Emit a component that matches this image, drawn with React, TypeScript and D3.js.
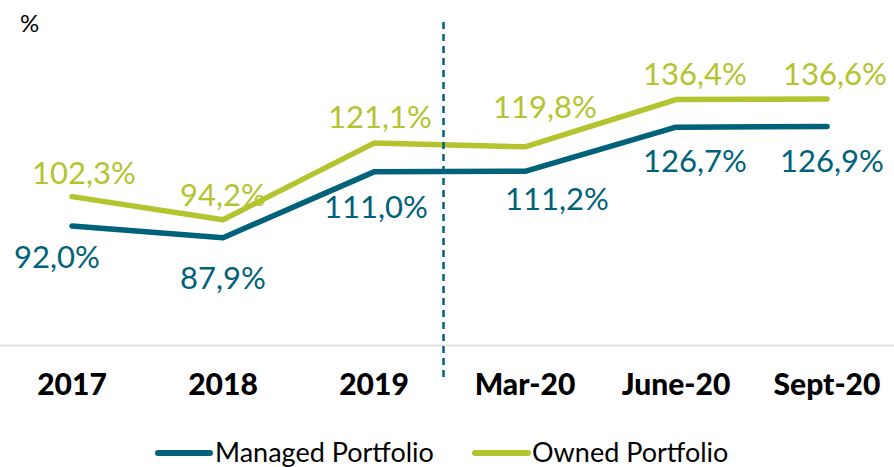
import React from "react";
import * as d3 from "d3";

const categories = ["2017", "2018", "2019", "Mar-20", "June-20", "Sept-20"];
const managed = [92.0, 87.9, 111.0, 111.2, 126.7, 126.9];
const owned = [102.3, 94.2, 121.1, 119.8, 136.4, 136.6];
const managedLabels = ["92,0%", "87,9%", "111,0%", "111,2%", "126,7%", "126,9%"];
const ownedLabels = ["102,3%", "94,2%", "121,1%", "119,8%", "136,4%", "136,6%"];

// layout (label offsets in px relative to the point)
const managedDx = [-15, 0, 2, 32, 19, 5];
const managedDy = [42, 51, 46, 39, 45, 45];
const ownedDx = [12, 0, 6, 20, 19, 8];
const ownedDy = [-13, -14, -15, -29, -15, -14];

const W = 894;
const H = 467;
const TEAL = "#00617a";
const GREEN = "#b4c42e";
const FONT = "Lato, 'Open Sans', sans-serif";

export default function App() {
  const x = d3.scalePoint<string>().domain(categories).range([72, 827]);
  const y = d3.scaleLinear().domain([50, 150]).range([345.6, 60.8]);
  const line = d3
    .line<number>()
    .x((_, i) => x(categories[i]) as number)
    .y((d) => y(d));
  const dividerX = ((x("2019") as number) + (x("Mar-20") as number)) / 2 - 6;

  return (
    <svg
      width={W}
      height={H}
      style={{ position: "absolute", top: 0, left: 0, background: "#fff" }}
      fontFamily={FONT}
    >
      <rect width={W} height={H} fill="#fff" />
      <text x={20} y={32} fontSize={24} fill="#000">%</text>
      <line x1={0} x2={W} y1={y(50)} y2={y(50)} stroke="#e3e3e3" strokeWidth={2} />
      <path d={line(owned) || ""} fill="none" stroke={GREEN} strokeWidth={5.5} strokeLinecap="round" strokeLinejoin="round" />
      <path d={line(managed) || ""} fill="none" stroke={TEAL} strokeWidth={5.5} strokeLinecap="round" strokeLinejoin="round" />
      <line x1={dividerX} x2={dividerX} y1={22} y2={378} stroke={TEAL} strokeWidth={2.5} strokeDasharray="7,5" />
      {owned.map((v, i) => (
        <text
          key={"o" + i}
          x={(x(categories[i]) as number) + ownedDx[i]}
          y={y(v) + ownedDy[i]}
          textAnchor="middle"
          fontSize={31}
          fill={GREEN}
        >
          {ownedLabels[i]}
        </text>
      ))}
      {managed.map((v, i) => (
        <text
          key={"m" + i}
          x={(x(categories[i]) as number) + managedDx[i]}
          y={y(v) + managedDy[i]}
          textAnchor="middle"
          fontSize={31}
          fill={TEAL}
        >
          {managedLabels[i]}
        </text>
      ))}
      {categories.map((c) => (
        <text
          key={c}
          x={x(c) as number}
          y={395}
          textAnchor="middle"
          fontSize={30}
          fontWeight={900}
          fill="#000"
        >
          {c}
        </text>
      ))}
      <line x1={158} x2={210} y1={453} y2={453} stroke={TEAL} strokeWidth={6} strokeLinecap="round" />
      <text x={215} y={462} fontSize={27} fill="#000">Managed Portfolio</text>
      <line x1={475} x2={528} y1={453} y2={453} stroke={GREEN} strokeWidth={6} strokeLinecap="round" />
      <text x={532} y={462} fontSize={27} fill="#000">Owned Portfolio</text>
    </svg>
  );
}
